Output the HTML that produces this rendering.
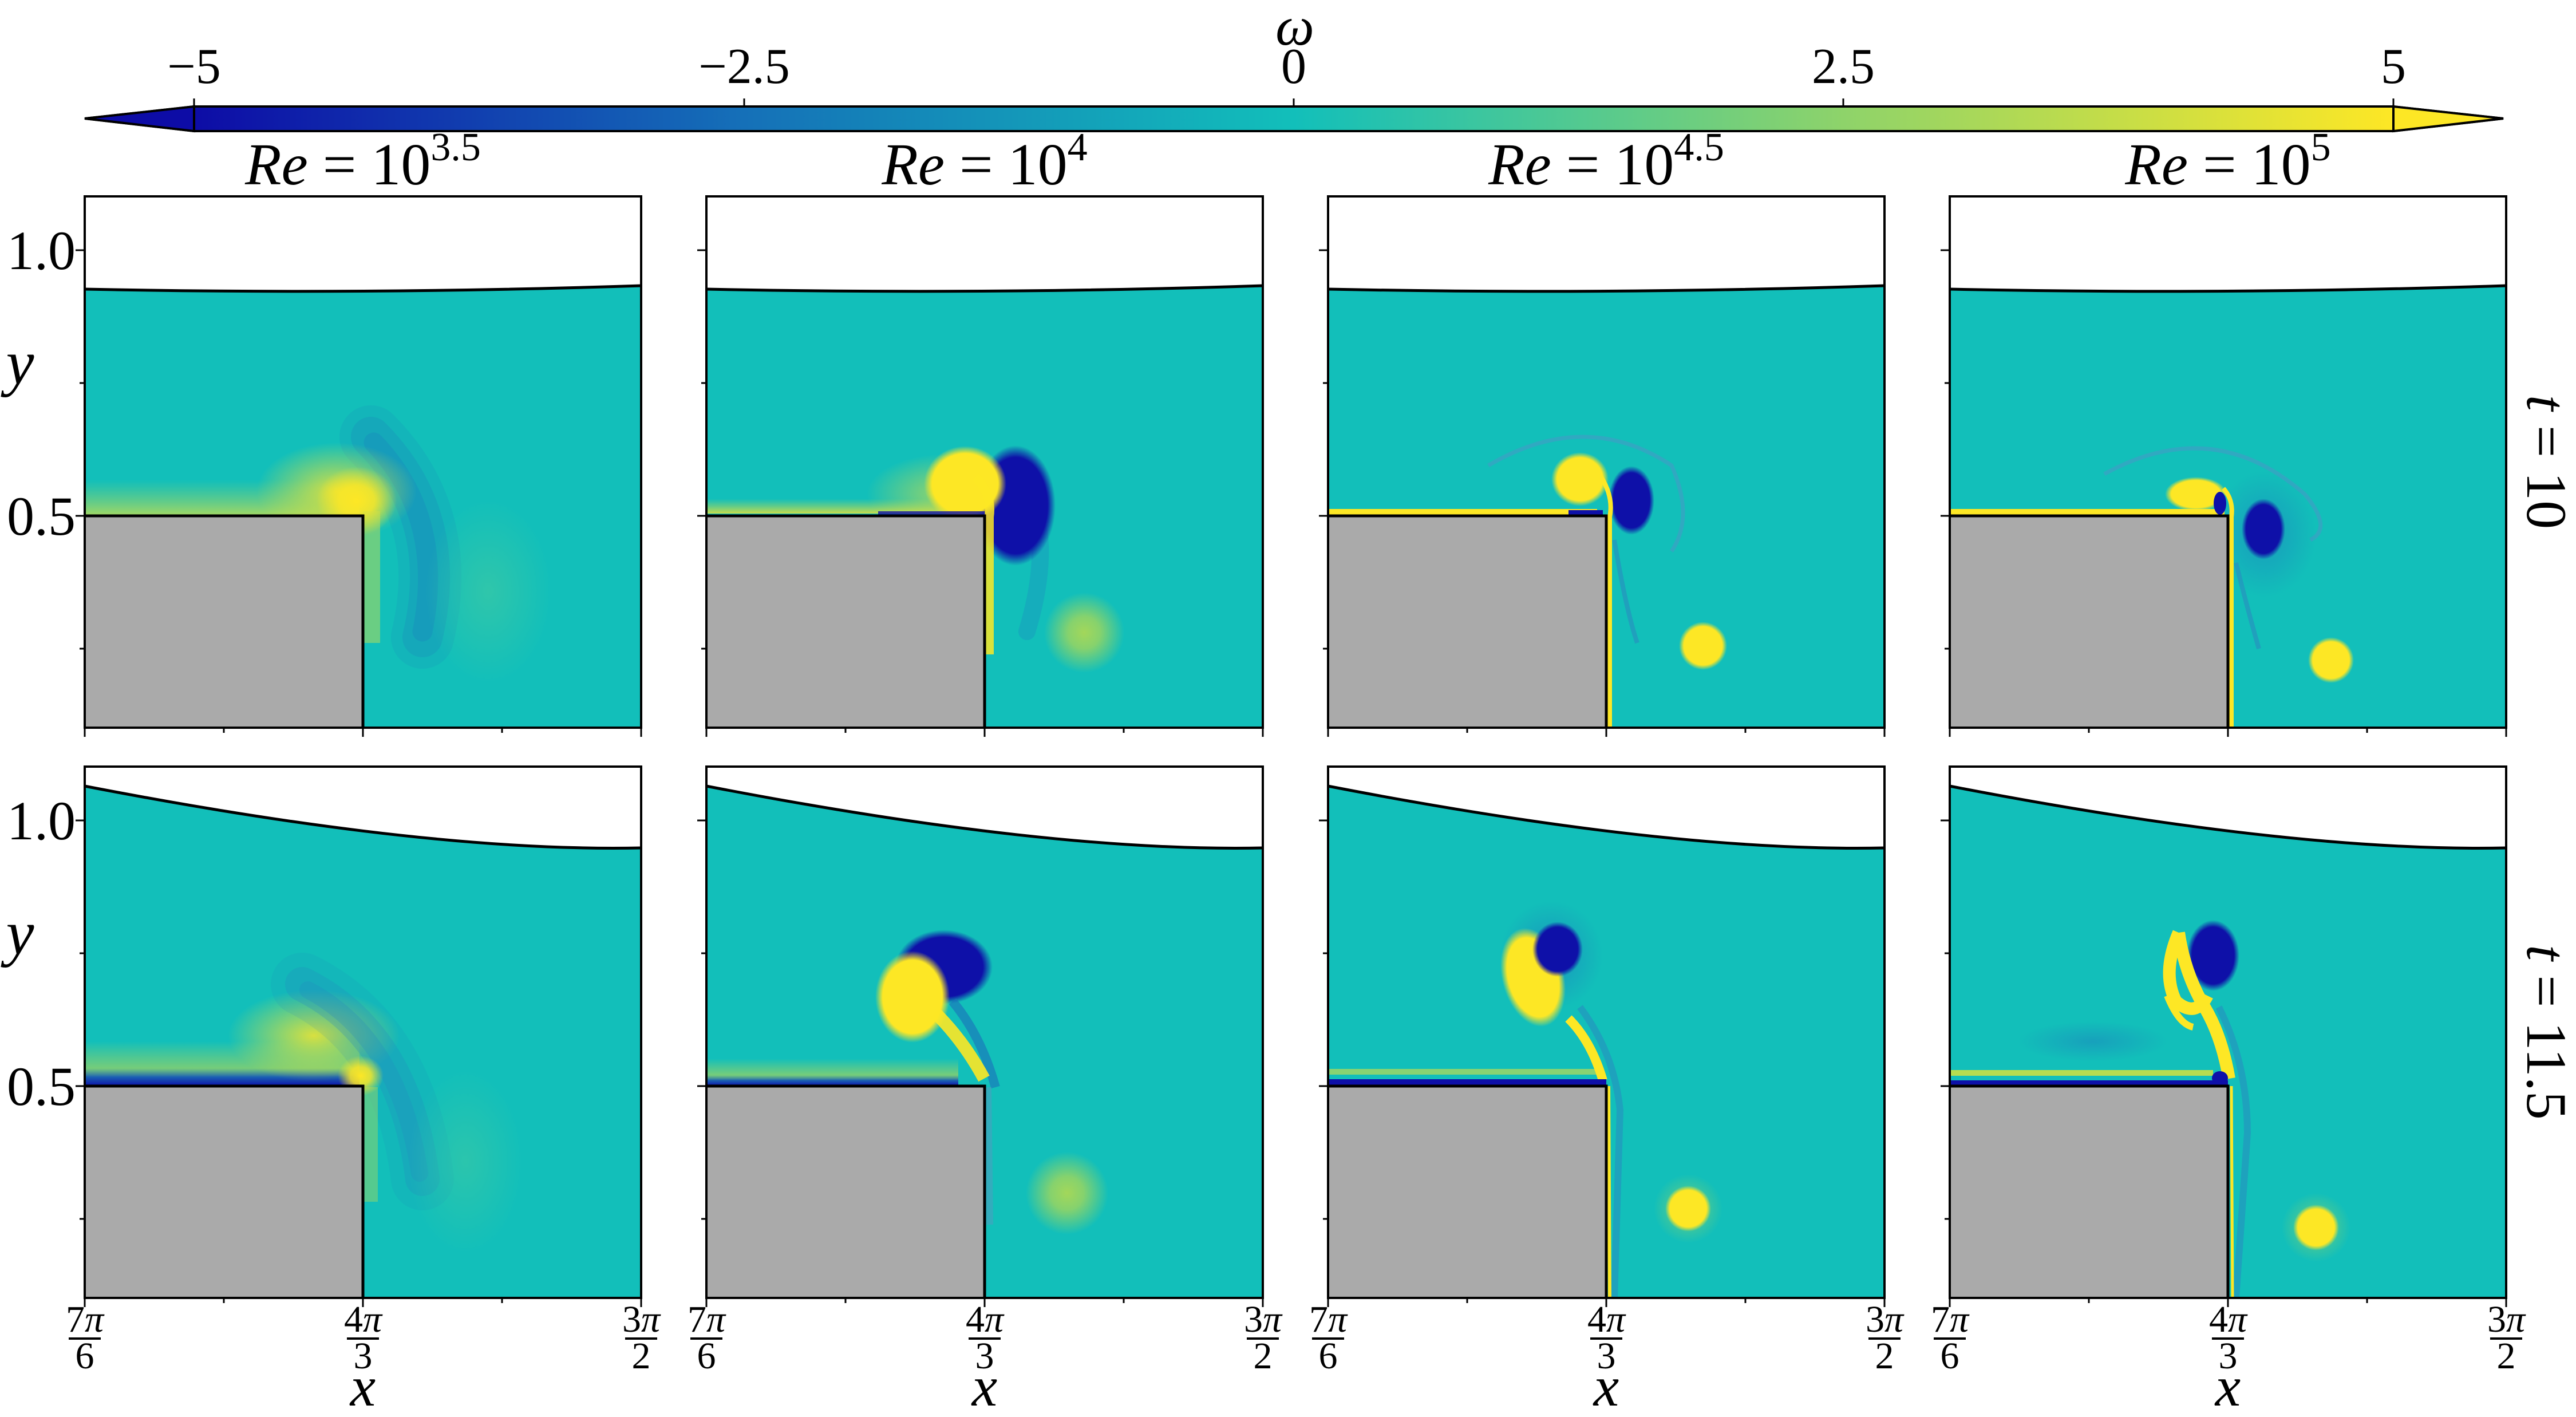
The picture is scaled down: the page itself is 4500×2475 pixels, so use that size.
<!DOCTYPE html>
<html><head><meta charset="utf-8"><style>
html,body{margin:0;padding:0;background:#fff;}
svg{display:block;}
text{font-family:"Liberation Serif",serif;fill:#000;}
</style></head><body>
<svg width="4500" height="2475" viewBox="0 0 4500 2475" xmlns="http://www.w3.org/2000/svg">
<defs>
<linearGradient id="cb" x1="339" y1="0" x2="4181" y2="0" gradientUnits="userSpaceOnUse">
<stop offset="0" stop-color="#0d0ca6"/>
<stop offset="0.25" stop-color="#1570b8"/>
<stop offset="0.5" stop-color="#12bfba"/>
<stop offset="0.75" stop-color="#8ed36a"/>
<stop offset="1" stop-color="#fde725"/>
</linearGradient>
<radialGradient id="gY"><stop offset="0" stop-color="#fde725"/><stop offset="0.45" stop-color="#fde725" stop-opacity="0.85"/><stop offset="1" stop-color="#fde725" stop-opacity="0"/></radialGradient>
<radialGradient id="gYs"><stop offset="0" stop-color="#fde725"/><stop offset="0.8" stop-color="#fde725"/><stop offset="1" stop-color="#fde725" stop-opacity="0"/></radialGradient>
<radialGradient id="gB"><stop offset="0" stop-color="#0e10a8"/><stop offset="0.5" stop-color="#0e10a8" stop-opacity="0.85"/><stop offset="1" stop-color="#0e10a8" stop-opacity="0"/></radialGradient>
<radialGradient id="gBs"><stop offset="0" stop-color="#0e10a8"/><stop offset="0.8" stop-color="#0e10a8"/><stop offset="1" stop-color="#0e10a8" stop-opacity="0"/></radialGradient>
<radialGradient id="gM"><stop offset="0" stop-color="#1c82bd"/><stop offset="1" stop-color="#1c82bd" stop-opacity="0"/></radialGradient>
<radialGradient id="gG"><stop offset="0" stop-color="#a3d75a"/><stop offset="0.4" stop-color="#a3d75a" stop-opacity="0.8"/><stop offset="1" stop-color="#a3d75a" stop-opacity="0"/></radialGradient>
<radialGradient id="gT"><stop offset="0" stop-color="#3cc9a4"/><stop offset="1" stop-color="#3cc9a4" stop-opacity="0"/></radialGradient>
<radialGradient id="gLY"><stop offset="0" stop-color="#d8e040"/><stop offset="1" stop-color="#d8e040" stop-opacity="0"/></radialGradient>
<linearGradient id="bandY1" x1="0" y1="0" x2="0" y2="1"><stop offset="0" stop-color="#9bd264" stop-opacity="0"/><stop offset="1" stop-color="#c8de4c"/></linearGradient>
<linearGradient id="bandB1" x1="0" y1="0" x2="0" y2="1"><stop offset="0" stop-color="#9bd264" stop-opacity="0"/><stop offset="0.6" stop-color="#8ed06a" stop-opacity="0.8"/><stop offset="0.8" stop-color="#1a5fb4"/><stop offset="1" stop-color="#0e10a8"/></linearGradient>
<clipPath id="w1"><path d="M0,162 Q486,172 972,156 L972,928 L0,928 Z"/></clipPath>
<clipPath id="w2"><path d="M0,34 Q600,150 972,142 L972,928 L0,928 Z"/></clipPath>
</defs>

<polygon points="148,207 339,186 4181,186 4373,207 4181,229 339,229" fill="url(#cb)" stroke="#000" stroke-width="4"/>
<polygon points="148,207 339,186 339,229" fill="#0d0ca6" stroke="#000" stroke-width="4"/>
<polygon points="4373,207 4181,186 4181,229" fill="#fde725" stroke="#000" stroke-width="4"/>
<g stroke="#000" stroke-width="3"><line x1="339" y1="186" x2="339" y2="172"/><line x1="1300" y1="186" x2="1300" y2="172"/><line x1="2260" y1="186" x2="2260" y2="172"/><line x1="3220" y1="186" x2="3220" y2="172"/><line x1="4181" y1="186" x2="4181" y2="172"/></g>
<g font-size="88" text-anchor="middle">
<text x="339" y="145">−5</text><text x="1300" y="145">−2.5</text><text x="2260" y="145">0</text><text x="3220" y="145">2.5</text><text x="4181" y="145">5</text>
<text x="2262" y="78" font-style="italic" font-size="96">ω</text>
</g>

<g font-size="104" text-anchor="middle">
<text x="634" y="322"><tspan font-style="italic">Re</tspan> = 10<tspan font-size="70" dy="-42">3.5</tspan></text>
<text x="1720" y="322"><tspan font-style="italic">Re</tspan> = 10<tspan font-size="70" dy="-42">4</tspan></text>
<text x="2806" y="322"><tspan font-style="italic">Re</tspan> = 10<tspan font-size="70" dy="-42">4.5</tspan></text>
<text x="3892" y="322"><tspan font-style="italic">Re</tspan> = 10<tspan font-size="70" dy="-42">5</tspan></text>
</g>

<g font-size="96" text-anchor="end">
<text x="132" y="470">1.0</text><text x="132" y="934">0.5</text>
<text x="132" y="1466">1.0</text><text x="132" y="1930">0.5</text>
</g>
<g font-size="110" font-style="italic" text-anchor="middle">
<text x="35" y="670">y</text><text x="35" y="1666">y</text>
</g>
<g font-size="100" text-anchor="middle">
<text transform="translate(4415,807) rotate(90)"><tspan font-style="italic">t</tspan> = 10</text>
<text transform="translate(4415,1803) rotate(90)"><tspan font-style="italic">t</tspan> = 11.5</text>
</g>

<!-- R1C1 -->
<g transform="translate(148,343)">
<path d="M0,162 Q486,172 972,156 L972,928 L0,928 Z" fill="#12bfba"/>
<g clip-path="url(#w1)">
<rect x="0" y="495" width="480" height="63" fill="url(#bandY1)" opacity="0.8"/>
<path d="M500,420 Q640,560 590,770" stroke="#1c82bd" stroke-width="110" fill="none" stroke-opacity="0.15" stroke-linecap="round"/>
<path d="M500,420 Q640,560 590,770" stroke="#1c82bd" stroke-width="70" fill="none" stroke-opacity="0.25" stroke-linecap="round"/>
<path d="M505,430 Q630,560 590,760" stroke="#1c82bd" stroke-width="35" fill="none" stroke-opacity="0.3" stroke-linecap="round"/>
<ellipse cx="705" cy="690" rx="110" ry="160" fill="url(#gT)" opacity="0.7"/>
<ellipse cx="440" cy="515" rx="140" ry="85" fill="url(#gLY)"/>
<ellipse cx="475" cy="532" rx="70" ry="60" fill="url(#gY)"/>
<rect x="486" y="550" width="30" height="230" fill="#d8e040" opacity="0.45"/>
</g>
<rect x="0" y="558" width="486" height="370" fill="#aaaaaa"/>
<path d="M0,162 Q486,172 972,156" fill="none" stroke="#000" stroke-width="5"/>
<path d="M0,558 L486,558 L486,928" fill="none" stroke="#000" stroke-width="5"/>
</g>
<!-- R1C2 -->
<g transform="translate(1234,343)">
<path d="M0,162 Q486,172 972,156 L972,928 L0,928 Z" fill="#12bfba"/>
<g clip-path="url(#w1)">
<rect x="0" y="528" width="430" height="26" fill="url(#bandY1)"/>
<ellipse cx="420" cy="520" rx="140" ry="70" fill="url(#gLY)" opacity="0.7"/>
<path d="M525,470 Q620,560 560,760" stroke="#1e8cc0" stroke-width="30" fill="none" stroke-opacity="0.35" stroke-linecap="round"/>
<ellipse cx="540" cy="540" rx="70" ry="105" fill="url(#gBs)"/>
<ellipse cx="660" cy="762" rx="70" ry="70" fill="url(#gG)"/>
<ellipse cx="452" cy="502" rx="72" ry="66" fill="url(#gYs)"/>
<path d="M470,490 Q500,520 494,560 L494,800" stroke="#fde725" stroke-width="16" fill="none" stroke-opacity="0.85"/>
<rect x="300" y="550" width="186" height="8" fill="#0e10a8" opacity="0.8"/>
</g>
<rect x="0" y="558" width="486" height="370" fill="#aaaaaa"/>
<path d="M0,162 Q486,172 972,156" fill="none" stroke="#000" stroke-width="5"/>
<path d="M0,558 L486,558 L486,928" fill="none" stroke="#000" stroke-width="5"/>
</g>
<!-- R1C3 -->
<g transform="translate(2320,343)">
<path d="M0,162 Q486,172 972,156 L972,928 L0,928 Z" fill="#12bfba"/>
<g clip-path="url(#w1)">
<path d="M280,470 Q450,370 600,470 Q640,560 600,620" stroke="#3d9fc4" stroke-width="7" fill="none" stroke-opacity="0.7"/>
<path d="M500,600 Q520,720 540,780" stroke="#2a8cc0" stroke-width="8" fill="none" stroke-opacity="0.6"/>
<rect x="0" y="546" width="470" height="10" fill="#fde725"/>
<ellipse cx="440" cy="494" rx="50" ry="47" fill="url(#gYs)"/>
<ellipse cx="530" cy="531" rx="40" ry="60" fill="url(#gBs)"/>
<ellipse cx="655" cy="785" rx="42" ry="42" fill="url(#gYs)"/>
<path d="M470,480 Q500,520 492,560 L492,928" stroke="#fde725" stroke-width="8" fill="none"/>
<rect x="420" y="548" width="60" height="8" fill="#0e10a8"/>
</g>
<rect x="0" y="558" width="486" height="370" fill="#aaaaaa"/>
<path d="M0,162 Q486,172 972,156" fill="none" stroke="#000" stroke-width="5"/>
<path d="M0,558 L486,558 L486,928" fill="none" stroke="#000" stroke-width="5"/>
</g>
<!-- R1C4 -->
<g transform="translate(3406,343)">
<path d="M0,162 Q486,172 972,156 L972,928 L0,928 Z" fill="#12bfba"/>
<g clip-path="url(#w1)">
<path d="M270,485 Q460,380 620,520 Q670,580 630,600" stroke="#3d9fc4" stroke-width="7" fill="none" stroke-opacity="0.7"/>
<ellipse cx="550" cy="590" rx="90" ry="110" fill="url(#gM)" opacity="0.6"/>
<path d="M500,640 Q520,720 540,790" stroke="#2a8cc0" stroke-width="8" fill="none" stroke-opacity="0.6"/>
<rect x="0" y="546" width="480" height="10" fill="#fde725"/>
<ellipse cx="430" cy="520" rx="54" ry="30" fill="url(#gYs)"/>
<ellipse cx="472" cy="536" rx="11" ry="20" fill="#0e10a8"/>
<ellipse cx="548" cy="581" rx="38" ry="53" fill="url(#gBs)"/>
<ellipse cx="666" cy="810" rx="40" ry="40" fill="url(#gYs)"/>
<path d="M478,510 Q496,530 492,560 L492,928" stroke="#fde725" stroke-width="8" fill="none"/>
</g>
<rect x="0" y="558" width="486" height="370" fill="#aaaaaa"/>
<path d="M0,162 Q486,172 972,156" fill="none" stroke="#000" stroke-width="5"/>
<path d="M0,558 L486,558 L486,928" fill="none" stroke="#000" stroke-width="5"/>
</g>

<!-- R2C1 -->
<g transform="translate(148,1339)">
<path d="M0,34 Q600,150 972,142 L972,928 L0,928 Z" fill="#12bfba"/>
<g clip-path="url(#w2)">
<rect x="0" y="480" width="480" height="78" fill="url(#bandB1)"/>
<ellipse cx="400" cy="470" rx="150" ry="80" fill="url(#gLY)"/>
<path d="M380,380 Q560,470 590,720" stroke="#2586bf" stroke-width="110" fill="none" stroke-opacity="0.12" stroke-linecap="round"/>
<path d="M380,380 Q560,470 590,720" stroke="#2586bf" stroke-width="60" fill="none" stroke-opacity="0.25" stroke-linecap="round"/>
<path d="M390,390 Q550,475 585,710" stroke="#2586bf" stroke-width="30" fill="none" stroke-opacity="0.25" stroke-linecap="round"/>
<ellipse cx="665" cy="690" rx="100" ry="160" fill="url(#gT)" opacity="0.6"/>
<rect x="486" y="560" width="26" height="200" fill="#bcdc50" opacity="0.4"/>
<ellipse cx="482" cy="540" rx="40" ry="35" fill="url(#gY)"/>
</g>
<rect x="0" y="558" width="486" height="370" fill="#aaaaaa"/>
<path d="M0,34 Q600,150 972,142" fill="none" stroke="#000" stroke-width="5"/>
<path d="M0,558 L486,558 L486,928" fill="none" stroke="#000" stroke-width="5"/>
</g>
<!-- R2C2 -->
<g transform="translate(1234,1339)">
<path d="M0,34 Q600,150 972,142 L972,928 L0,928 Z" fill="#12bfba"/>
<g clip-path="url(#w2)">
<rect x="0" y="510" width="440" height="48" fill="url(#bandB1)"/>
<ellipse cx="415" cy="350" rx="85" ry="65" fill="url(#gBs)"/>
<ellipse cx="360" cy="402" rx="65" ry="80" fill="url(#gYs)"/>
<path d="M430,410 Q480,470 505,560" stroke="#1a6fbb" stroke-width="16" fill="none" stroke-opacity="0.6"/>
<path d="M400,430 Q450,480 485,545" stroke="#fde725" stroke-width="22" fill="none" stroke-opacity="0.9"/>
<ellipse cx="630" cy="745" rx="72" ry="72" fill="url(#gG)"/>
<path d="M492,560 L495,800" stroke="#4aa0c0" stroke-width="12" fill="none" stroke-opacity="0.6"/>
</g>
<rect x="0" y="558" width="486" height="370" fill="#aaaaaa"/>
<path d="M0,34 Q600,150 972,142" fill="none" stroke="#000" stroke-width="5"/>
<path d="M0,558 L486,558 L486,928" fill="none" stroke="#000" stroke-width="5"/>
</g>
<!-- R2C3 -->
<g transform="translate(2320,1339)">
<path d="M0,34 Q600,150 972,142 L972,928 L0,928 Z" fill="#12bfba"/>
<g clip-path="url(#w2)">
<ellipse cx="390" cy="330" rx="90" ry="95" fill="url(#gM)" opacity="0.7"/>
<path d="M440,420 Q500,500 510,600 L500,928" stroke="#2a86c0" stroke-width="12" fill="none" stroke-opacity="0.5"/>
<ellipse cx="629" cy="772" rx="60" ry="60" fill="url(#gG)" opacity="0.5"/>
<rect x="0" y="528" width="470" height="10" fill="#a6d860" opacity="0.8"/>
<ellipse cx="358" cy="368" rx="54" ry="88" transform="rotate(-15 358 368)" fill="url(#gYs)"/>
<ellipse cx="401" cy="319" rx="44" ry="48" fill="url(#gBs)"/>
<path d="M420,440 Q460,480 480,548" stroke="#fde725" stroke-width="16" fill="none"/>
<rect x="0" y="546" width="486" height="10" fill="#0e10a8"/>
<path d="M490,558 L492,928" stroke="#fde725" stroke-width="6" fill="none"/>
<ellipse cx="629" cy="772" rx="40" ry="40" fill="url(#gYs)"/>
</g>
<rect x="0" y="558" width="486" height="370" fill="#aaaaaa"/>
<path d="M0,34 Q600,150 972,142" fill="none" stroke="#000" stroke-width="5"/>
<path d="M0,558 L486,558 L486,928" fill="none" stroke="#000" stroke-width="5"/>
</g>
<!-- R2C4 -->
<g transform="translate(3406,1339)">
<path d="M0,34 Q600,150 972,142 L972,928 L0,928 Z" fill="#12bfba"/>
<g clip-path="url(#w2)">
<ellipse cx="250" cy="480" rx="130" ry="35" fill="url(#gM)" opacity="0.5"/>
<path d="M470,420 Q520,520 520,640 L500,928" stroke="#2a86c0" stroke-width="12" fill="none" stroke-opacity="0.5"/>
<ellipse cx="640" cy="805" rx="60" ry="60" fill="url(#gG)" opacity="0.5"/>
<rect x="0" y="530" width="460" height="10" fill="#b6dc50"/>
<ellipse cx="460" cy="330" rx="46" ry="62" fill="url(#gBs)"/>
<path d="M400,290 Q370,360 395,410 Q430,440 450,400 M400,290 Q410,360 445,420 Q475,470 488,545" stroke="#fde725" stroke-width="22" fill="none"/>
<path d="M380,400 Q400,450 425,455" stroke="#fde725" stroke-width="12" fill="none"/>
<ellipse cx="472" cy="544" rx="14" ry="12" fill="#0e10a8"/>
<rect x="0" y="548" width="486" height="9" fill="#0e10a8"/>
<path d="M492,558 L494,928" stroke="#fde725" stroke-width="5" fill="none"/>
<ellipse cx="640" cy="805" rx="40" ry="40" fill="url(#gYs)"/>
</g>
<rect x="0" y="558" width="486" height="370" fill="#aaaaaa"/>
<path d="M0,34 Q600,150 972,142" fill="none" stroke="#000" stroke-width="5"/>
<path d="M0,558 L486,558 L486,928" fill="none" stroke="#000" stroke-width="5"/>
</g>

<g fill="none" stroke="#000" stroke-width="4">
<rect x="148" y="343" width="972" height="928"/><rect x="1234" y="343" width="972" height="928"/><rect x="2320" y="343" width="972" height="928"/><rect x="3406" y="343" width="972" height="928"/>
<rect x="148" y="1339" width="972" height="928"/><rect x="1234" y="1339" width="972" height="928"/><rect x="2320" y="1339" width="972" height="928"/><rect x="3406" y="1339" width="972" height="928"/>
</g>
<g stroke="#000" stroke-width="3">
<path d="M148,437h-16M148,901h-16M148,669h-9M148,1133h-9 M1234,437h-16M1234,901h-16M1234,669h-9M1234,1133h-9 M2320,437h-16M2320,901h-16M2320,669h-9M2320,1133h-9 M3406,437h-16M3406,901h-16M3406,669h-9M3406,1133h-9"/>
<path d="M148,1433h-16M148,1897h-16M148,1665h-9M148,2129h-9 M1234,1433h-16M1234,1897h-16M1234,1665h-9M1234,2129h-9 M2320,1433h-16M2320,1897h-16M2320,1665h-9M2320,2129h-9 M3406,1433h-16M3406,1897h-16M3406,1665h-9M3406,2129h-9"/>
<path d="M148,1271v16M634,1271v16M1120,1271v16M391,1271v9M877,1271v9 M1234,1271v16M1720,1271v16M2206,1271v16M1477,1271v9M1963,1271v9 M2320,1271v16M2806,1271v16M3292,1271v16M2563,1271v9M3049,1271v9 M3406,1271v16M3892,1271v16M4378,1271v16M3649,1271v9M4135,1271v9"/>
<path d="M148,2267v16M634,2267v16M1120,2267v16M391,2267v9M877,2267v9 M1234,2267v16M1720,2267v16M2206,2267v16M1477,2267v9M1963,2267v9 M2320,2267v16M2806,2267v16M3292,2267v16M2563,2267v9M3049,2267v9 M3406,2267v16M3892,2267v16M4378,2267v16M3649,2267v9M4135,2267v9"/>
</g>

<g font-size="66" text-anchor="middle">
<text x="148" y="2326">7<tspan font-style="italic">π</tspan></text><text x="148" y="2390">6</text>
<text x="634" y="2326">4<tspan font-style="italic">π</tspan></text><text x="634" y="2390">3</text>
<text x="1120" y="2326">3<tspan font-style="italic">π</tspan></text><text x="1120" y="2390">2</text>
<text x="1234" y="2326">7<tspan font-style="italic">π</tspan></text><text x="1234" y="2390">6</text>
<text x="1720" y="2326">4<tspan font-style="italic">π</tspan></text><text x="1720" y="2390">3</text>
<text x="2206" y="2326">3<tspan font-style="italic">π</tspan></text><text x="2206" y="2390">2</text>
<text x="2320" y="2326">7<tspan font-style="italic">π</tspan></text><text x="2320" y="2390">6</text>
<text x="2806" y="2326">4<tspan font-style="italic">π</tspan></text><text x="2806" y="2390">3</text>
<text x="3292" y="2326">3<tspan font-style="italic">π</tspan></text><text x="3292" y="2390">2</text>
<text x="3406" y="2326">7<tspan font-style="italic">π</tspan></text><text x="3406" y="2390">6</text>
<text x="3892" y="2326">4<tspan font-style="italic">π</tspan></text><text x="3892" y="2390">3</text>
<text x="4378" y="2326">3<tspan font-style="italic">π</tspan></text><text x="4378" y="2390">2</text>
</g>
<g stroke="#000" stroke-width="4">
<path d="M120,2338h56M606,2338h56M1092,2338h56M1206,2338h56M1692,2338h56M2178,2338h56M2292,2338h56M2778,2338h56M3264,2338h56M3378,2338h56M3864,2338h56M4350,2338h56"/>
</g>
<g font-size="100" font-style="italic" text-anchor="middle">
<text x="634" y="2455">x</text><text x="1720" y="2455">x</text><text x="2806" y="2455">x</text><text x="3892" y="2455">x</text>
</g>
</svg>
</body></html>
